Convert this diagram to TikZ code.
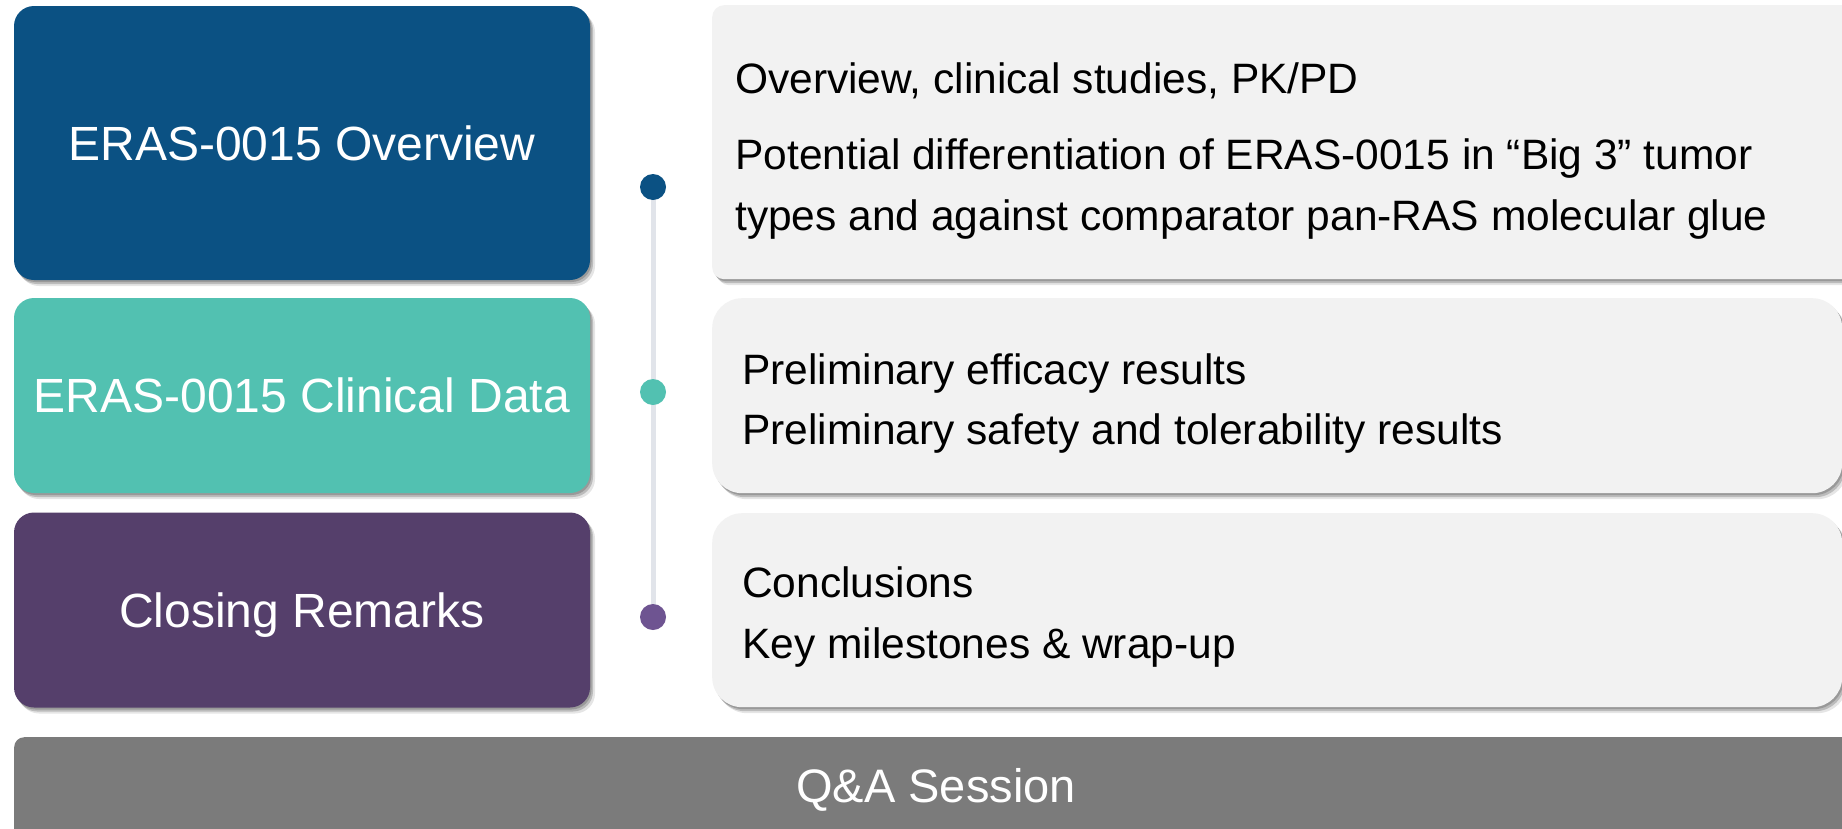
\documentclass[tikz,border=0pt]{standalone}
\usepackage{fontspec}
\setmainfont{Liberation Sans}
\usetikzlibrary{shadows,backgrounds}

\definecolor{navy}{HTML}{0B5183}
\definecolor{teal}{HTML}{52C1B1}
\definecolor{plum}{HTML}{553F6B}
\definecolor{plumdot}{HTML}{6E5491}
\definecolor{panel}{HTML}{F2F2F2}
\definecolor{qagray}{HTML}{7B7B7B}
\definecolor{rail}{HTML}{E1E4EA}

\begin{document}
\begin{tikzpicture}[x=1pt,y=-1pt,
  softshadow/.style={
    drop shadow={shadow xshift=5pt, shadow yshift=-6pt, opacity=0.10, fill=black},
    drop shadow={shadow xshift=3pt, shadow yshift=-4pt, opacity=0.18, fill=black},
    drop shadow={shadow xshift=1.5pt, shadow yshift=-2pt, opacity=0.18, fill=black}},
  leftbox/.style={rounded corners=20pt, minimum width=576pt, inner sep=0pt,
    text=white, font=\fontsize{48}{58}\selectfont, text height=34pt, text depth=0pt, softshadow},
  rightbox/.style={fill=panel, anchor=north west, inner sep=0pt, softshadow},
  itemtext/.style={anchor=base west, inner sep=0pt, text=black, font=\fontsize{42.5}{51}\selectfont},
  dot/.style={circle, inner sep=0pt, minimum size=26pt},
]
% canvas
\begin{pgfonlayer}{background}
  \fill[white] (0,0) rectangle (1842,828);
\end{pgfonlayer}
\clip (0,0) rectangle (1842,828);

% section headers
\node[leftbox, fill=navy, minimum height=274pt] (ov) at (302,143) {ERAS-0015 Overview};
\node[leftbox, fill=teal, minimum height=195pt] (cd) at (302,395.5) {ERAS-0015 Clinical Data};
\node[leftbox, fill=plum, minimum height=195pt] (cr) at (302,610) {Closing Remarks};

% detail panels
\node[rightbox, rounded corners=12pt, minimum width=1170pt, minimum height=274pt] (ovp) at (712,5) {};
\node[rightbox, rounded corners=30pt, minimum width=1130pt, minimum height=195pt] (cdp) at (712,298) {};
\node[rightbox, rounded corners=30pt, minimum width=1130pt, minimum height=194pt] (crp) at (712,513) {};

% panel contents
\node[itemtext] (ov1) at (735,93) {Overview, clinical studies, PK/PD};
\node[itemtext] (ov2) at (735,169) {Potential differentiation of ERAS-0015 in “Big 3” tumor};
\node[itemtext] (ov3) at (735,230) {types and against comparator pan-RAS molecular glue};
\node[itemtext] (cd1) at (742,384) {Preliminary efficacy results};
\node[itemtext] (cd2) at (742,444) {Preliminary safety and tolerability results};
\node[itemtext] (cr1) at (742,597) {Conclusions};
\node[itemtext] (cr2) at (742,658) {Key milestones \& wrap-up};

% timeline
\node[dot, fill=navy] (d1) at (653,187) {};
\node[dot, fill=teal] (d2) at (653,392) {};
\node[dot, fill=plumdot] (d3) at (653,617) {};
\begin{pgfonlayer}{background}
  \draw[rail, line width=5pt] (d1.center) -- (d3.center);
\end{pgfonlayer}

% closing bar
\node[fill=qagray, rounded corners=10pt, anchor=north west, inner sep=0pt,
  minimum width=1880pt, minimum height=130pt, softshadow] (qa) at (14,737) {};
\node[anchor=base, inner sep=0pt, text=white, font=\fontsize{47}{56}\selectfont] (qat) at (936,802) {Q\&A Session};
\end{tikzpicture}
\end{document}
